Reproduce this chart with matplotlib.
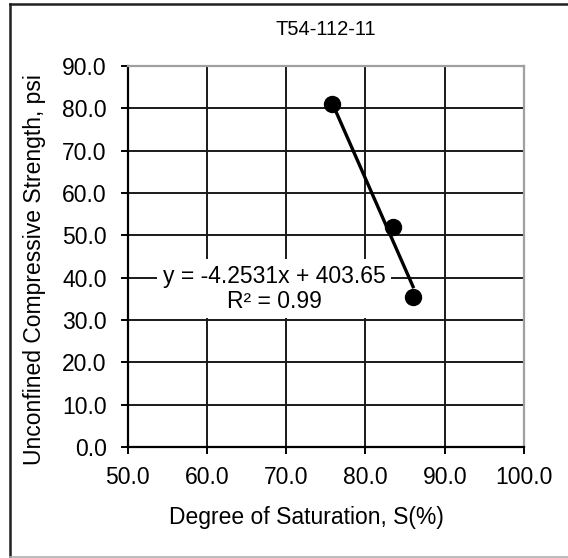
import numpy as np
import matplotlib
matplotlib.use("Agg")
import matplotlib.pyplot as plt
from matplotlib.lines import Line2D

plt.rcParams['font.family'] = ['Liberation Sans', 'DejaVu Sans']

# measured points
saturation = [75.8, 83.5, 86.0]      # S (%)
strength = [81.0, 52.0, 35.5]        # psi

# linear trendline reported for the series
slope = -4.2531
intercept = 403.65
r2 = 0.99

title = "T54-112-11"
xticks = [50, 60, 70, 80, 90, 100]
yticks = [0, 10, 20, 30, 40, 50, 60, 70, 80, 90]

W, H = 568, 558
fig = plt.figure(figsize=(W / 100, H / 100), dpi=100)
ax = fig.add_axes([127.7 / W, 1 - 447 / H, (524 - 127.7) / W, (447 - 66) / H])

# gridlines
ax.set_axisbelow(True)
ax.grid(True, color='#1a1a1a', linewidth=1.4)

# trendline drawn from the equation over the data range
xs = np.array([min(saturation), max(saturation)])
ax.plot(xs, slope * xs + intercept, color='black', linewidth=2.4, zorder=3)
ax.plot(saturation, strength, 'o', color='black', markersize=11.5, zorder=4)

ax.set_xlim(50, 100)
ax.set_ylim(0, 90)
ax.set_xticks(xticks)
ax.set_yticks(yticks)
ax.set_xticklabels(["%.1f" % v for v in xticks])
ax.set_yticklabels(["%.1f" % v for v in yticks])
ax.tick_params(direction='out', length=5, width=1.4, color='black',
               labelsize=16.5)
ax.tick_params(axis='x', pad=9)
ax.tick_params(axis='y', pad=10)

for side in ('top', 'right'):
    ax.spines[side].set_color('#a0a0a0')
    ax.spines[side].set_linewidth(1.6)
for side in ('left', 'bottom'):
    ax.spines[side].set_color('black')
    ax.spines[side].set_linewidth(1.6)

ax.set_title(title, fontsize=14.5, pad=22)
ax.set_xlabel("Degree of Saturation, S(%)", fontsize=16.5, labelpad=12)
ax.set_ylabel("Unconfined Compressive Strength, psi", fontsize=16.5, labelpad=12)
ax.xaxis.label.set_x(0.45)
ax.yaxis.label.set_y(0.467)

eq = "y = -4.2531x + 403.65\nR² = %.2f" % r2
ax.text(68.5, 37.4, eq, fontsize=16.5, ha='center', va='center',
        multialignment='center', linespacing=1.1, zorder=5,
        bbox=dict(facecolor='white', edgecolor='none', pad=4))

# chart border
def px(x, y):
    return x / W, 1 - y / H

for (x0, y0), (x1, y1), c, lw in [
        ((10, 4), (W + 5, 4), '#202020', 1.8),
        ((10, 4), (10, 557), '#202020', 1.8),
        ((10, 557), (W + 5, 557), '#b0b0b0', 1.2)]:
    a, b = px(x0, y0)
    c2, d = px(x1, y1)
    fig.add_artist(Line2D([a, c2], [b, d], color=c, linewidth=lw,
                          transform=fig.transFigure))

fig.savefig("out.png", dpi=100)
